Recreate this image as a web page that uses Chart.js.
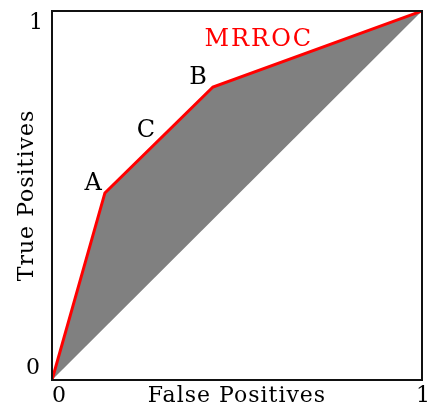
<!DOCTYPE html>
<html>
<head>
<meta charset="utf-8">
<script src="https://cdn.jsdelivr.net/npm/chart.js@4"></script>
<style>
  html, body { margin: 0; padding: 0; background: #fff; }
  #wrap { width: 427px; height: 407px; }
</style>
</head>
<body>
<div id="wrap"><canvas id="roc"></canvas></div>
<script>
// ROC curve points (false positive rate, true positive rate)
const rocX = [0, 0.143, 0.435, 1];
const rocY = [0, 0.507, 0.794, 1];
// chance diagonal
const diagX = [0, 1];
const diagY = [0, 1];
// tick labels
const tickValues = [0, 1];
const tickLabels = ['0', '1'];
// point labels on the curve
const noteText = ['A', 'B', 'C', 'MRROC'];
const noteX = [0.111, 0.395, 0.254, 0.559];
const noteY = [0.531, 0.818, 0.675, 0.921];
const noteColor = ['#000', '#000', '#000', '#ff0000'];

const toPoints = (xs, ys) => xs.map((x, i) => ({ x: x, y: ys[i] }));

const FONT = '22px "DejaVu Serif", "Liberation Serif", serif';

// draws the frame and all text
const labelsPlugin = {
    id: 'labels',
    afterDraw(chart) {
        const ctx = chart.ctx;
        const a = chart.chartArea;
        const sx = chart.scales.x, sy = chart.scales.y;
        ctx.save();
        ctx.strokeStyle = '#111';
        ctx.lineWidth = 2;
        ctx.strokeRect(a.left, a.top, a.right - a.left, a.bottom - a.top);

        ctx.font = FONT;
        ctx.fillStyle = '#000';
        ctx.textBaseline = 'middle';
        ctx.textAlign = 'center';
        // y ticks
        ctx.fillText(tickLabels[0], a.left - 19, sy.getPixelForValue(tickValues[0]) - 12);
        ctx.fillText(tickLabels[1], a.left - 16, sy.getPixelForValue(tickValues[1]) + 12);
        // x ticks
        ctx.fillText(tickLabels[0], sx.getPixelForValue(tickValues[0]) + 7, a.bottom + 16);
        ctx.fillText(tickLabels[1], sx.getPixelForValue(tickValues[1]) + 1, a.bottom + 16);

        // axis titles
        ctx.letterSpacing = '1px';
        ctx.fillText('False Positives', (a.left + a.right) / 2, a.bottom + 16);
        ctx.save();
        ctx.translate(a.left - 25, (a.top + a.bottom) / 2);
        ctx.rotate(-Math.PI / 2);
        ctx.fillText('True Positives', 0, 0);
        ctx.restore();

        // notes
        noteText.forEach((t, i) => {
            ctx.fillStyle = noteColor[i];
            ctx.font = '24px "DejaVu Serif", serif';
            ctx.letterSpacing = i === 3 ? '2px' : '0px';
            ctx.fillText(t, sx.getPixelForValue(noteX[i]), sy.getPixelForValue(noteY[i]));
        });
        ctx.restore();
    }
};

new Chart(document.getElementById('roc'), {
    type: 'line',
    data: {
        datasets: [{
            label: 'diagonal',
            data: toPoints(diagX, diagY),
            borderColor: 'rgba(0,0,0,0)',
            borderWidth: 0,
            pointRadius: 0,
            fill: false
        }, {
            label: 'MRROC',
            data: toPoints(rocX, rocY),
            borderColor: '#ff0000',
            borderWidth: 3,
            backgroundColor: '#808080',
            pointRadius: 0,
            tension: 0,
            fill: 0
        }]
    },
    options: {
        responsive: true,
        maintainAspectRatio: false,
        animation: false,
        layout: { padding: { top: 11, right: 5, left: 0, bottom: 0 } },
        plugins: { legend: { display: false }, tooltip: { enabled: false } },
        scales: {
            x: {
                type: 'linear', min: 0, max: 1,
                grid: { display: false }, border: { display: false },
                ticks: { display: false },
                afterFit(s) { s.height = 27; }
            },
            y: {
                type: 'linear', min: 0, max: 1,
                grid: { display: false }, border: { display: false },
                ticks: { display: false },
                afterFit(s) { s.width = 52; }
            }
        }
    },
    plugins: [labelsPlugin]
});
</script>
</body>
</html>
